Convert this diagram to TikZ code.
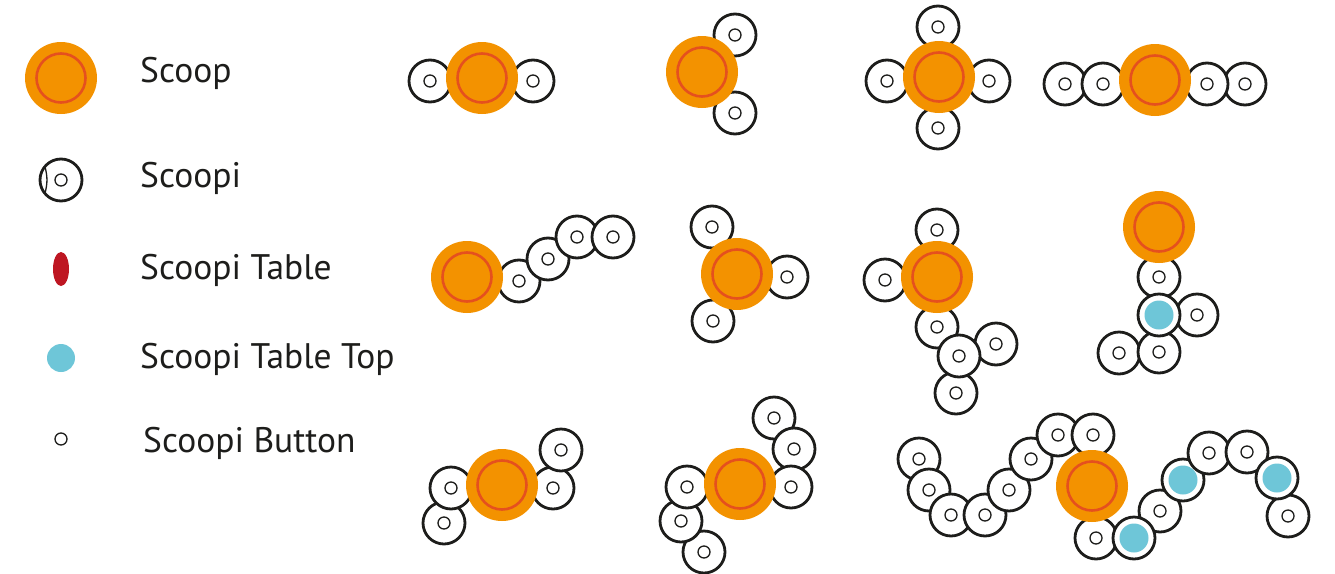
\documentclass[tikz,border=0pt]{standalone}
\usepackage{fontspec}
\setmainfont{PT Sans}
\usetikzlibrary{shapes.geometric}
\definecolor{scoop area}{HTML}{F39200}
\definecolor{scoop ring}{HTML}{E5501E}
\definecolor{table area}{HTML}{BE1622}
\definecolor{top area}{HTML}{6EC6D8}
\definecolor{ink}{HTML}{1D1D1B}
\tikzset{
  scoop/.style={circle, fill=scoop area, minimum size=72pt, inner sep=0pt,
    path picture={\draw[scoop ring, line width=2.6pt] (path picture bounding box.center) circle (24.5pt);}},
  ringbase/.style={circle, draw=ink, fill=white, line width=2.8pt, minimum size=42pt, inner sep=0pt, outer sep=0pt},
  scoopi/.style={ringbase,
    path picture={\draw[ink, line width=1.3pt] (path picture bounding box.center) circle (6pt);}},
  toppi/.style={ringbase,
    path picture={\fill[top area] (path picture bounding box.center) circle (14.5pt);}},
  tablemark/.style={ellipse, fill=table area, minimum width=16pt, minimum height=34pt, inner sep=0pt},
  topmark/.style={circle, fill=top area, minimum size=28pt, inner sep=0pt},
  button/.style={circle, draw=ink, line width=1.3pt, minimum size=12pt, inner sep=0pt},
  legendtext/.style={anchor=base west, inner sep=0pt, text=ink, font=\fontsize{35.5}{42}\selectfont}
}
\begin{document}
\begin{tikzpicture}[x=1pt, y=-1pt]
  \useasboundingbox (0,0) rectangle (1335,573);
  % legend
  \node[scoop] (ls) at (61,78) {};
  \node[scoopi] (lsi) at (61,180) {};
  \draw[ink, line width=1.3pt] (lsi.140) to[bend left=15] (lsi.220);
  \node[tablemark] (lt) at (61,269) {};
  \node[topmark] (ltt) at (61,358) {};
  \node[button] (lb) at (61,439) {};
  \node[legendtext] (t1) at (140,82) {Scoop};
  \node[legendtext] (t2) at (140,187) {Scoopi};
  \node[legendtext] (t3) at (140,279) {Scoopi Table};
  \node[legendtext] (t4) at (140,368) {Scoopi Table Top};
  \node[legendtext] (t5) at (143,452) {Scoopi Button};
  % row 1
  \node[scoopi] (a1) at (430,81) {};
  \node[scoopi] (a2) at (533,81) {};
  \node[scoop] (a0) at (482,78) {};
  \node[scoopi] (b1) at (735,35) {};
  \node[scoopi] (b2) at (735,113) {};
  \node[scoop] (b0) at (702,72) {};
  \node[scoopi] (c1) at (938,27) {};
  \node[scoopi] (c2) at (887,81) {};
  \node[scoopi] (c3) at (989,81) {};
  \node[scoopi] (c4) at (938,128) {};
  \node[scoop] (c0) at (939,77) {};
  \node[scoopi] (d1) at (1065,84) {};
  \node[scoopi] (d2) at (1103,84) {};
  \node[scoopi] (d4) at (1245,84) {};
  \node[scoopi] (d3) at (1207,84) {};
  \node[scoop] (d0) at (1155,80) {};
  % row 2
  \node[scoopi] (e1) at (519,281) {};
  \node[scoopi] (e2) at (548,259) {};
  \node[scoopi] (e3) at (577,237) {};
  \node[scoopi] (e4) at (613,237) {};
  \node[scoop] (e0) at (467,277) {};
  \node[scoopi] (f1) at (712,227) {};
  \node[scoopi] (f2) at (787,277) {};
  \node[scoopi] (f3) at (713,321) {};
  \node[scoop] (f0) at (737,274) {};
  \node[scoopi] (g1) at (937,230) {};
  \node[scoopi] (g2) at (885,280) {};
  \node[scoopi] (g3) at (937,327) {};
  \node[scoopi] (g5) at (996,344) {};
  \node[scoopi] (g6) at (956,393) {};
  \node[scoopi] (g4) at (959,356) {};
  \node[scoop] (g0) at (937,277) {};
  \node[scoopi] (h5) at (1119,353) {};
  \node[scoopi] (h4) at (1159,352) {};
  \node[scoopi] (h3) at (1197,315) {};
  \node[scoopi] (h1) at (1159,277) {};
  \node[toppi] (h2) at (1159,315) {};
  \node[scoop] (h0) at (1159,227) {};
  % row 3
  \node[scoopi] (i2) at (444,523) {};
  \node[scoopi] (i1) at (451,488) {};
  \node[scoopi] (i3) at (553,488) {};
  \node[scoopi] (i4) at (561,450) {};
  \node[scoop] (i0) at (502,485) {};
  \node[scoopi] (j1) at (774,418) {};
  \node[scoopi] (j2) at (794,449) {};
  \node[scoopi] (j3) at (791,487) {};
  \node[scoopi] (j6) at (704,552) {};
  \node[scoopi] (j5) at (681,521) {};
  \node[scoopi] (j4) at (687,487) {};
  \node[scoop] (j0) at (740,484) {};
  \node[scoopi] (k1) at (919,459) {};
  \node[scoopi] (k2) at (929,490) {};
  \node[scoopi] (k3) at (951,515) {};
  \node[scoopi] (k4) at (985,515) {};
  \node[scoopi] (k5) at (1009,490) {};
  \node[scoopi] (k6) at (1031,459) {};
  \node[scoopi] (k7) at (1058,435) {};
  \node[scoopi] (k8) at (1093,435) {};
  \node[scoopi] (m1) at (1096,538) {};
  \node[scoopi] (m3) at (1160,511) {};
  \node[toppi] (m2) at (1134,538) {};
  \node[toppi] (m4) at (1183,480) {};
  \node[scoopi] (m5) at (1209,453) {};
  \node[scoopi] (m6) at (1247,452) {};
  \node[scoopi] (m8) at (1288,516) {};
  \node[toppi] (m7) at (1277,478) {};
  \node[scoop] (k0) at (1092,486) {};
\end{tikzpicture}
\end{document}
